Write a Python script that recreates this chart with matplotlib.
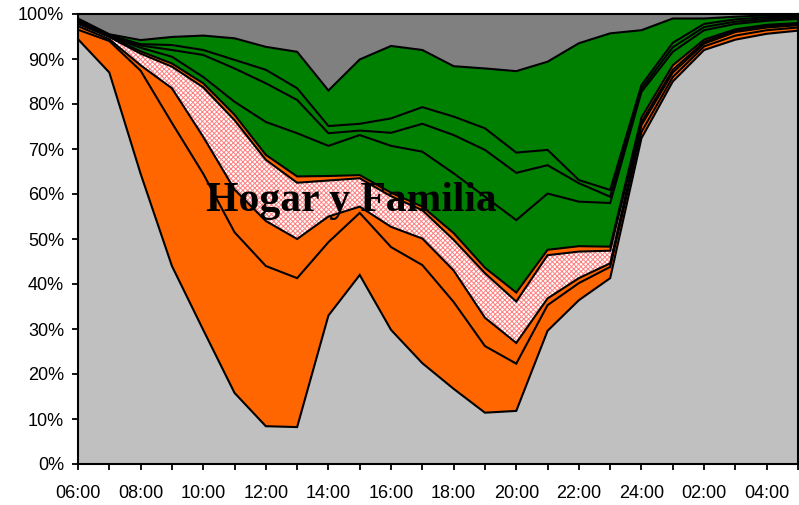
import numpy as np
import matplotlib
matplotlib.use('Agg')
import matplotlib.pyplot as plt

#%% datos (porcentaje por hora, capas de abajo hacia arriba)
horas = ['06:00','07:00','08:00','09:00','10:00','11:00','12:00','13:00',
         '14:00','15:00','16:00','17:00','18:00','19:00','20:00','21:00',
         '22:00','23:00','24:00','01:00','02:00','03:00','04:00','05:00']

gris_base  = [94.4, 87.0, 64.5, 44.0, 29.8, 15.8, 8.4, 8.2, 33.0, 42.0, 29.8, 22.4,
              16.7, 11.4, 11.8, 29.6, 36.4, 41.3, 72.4, 85.0, 92.0, 94.3, 95.6, 96.3]
naranja_1  = [2.1, 7.0, 22.9, 31.8, 34.7, 35.7, 35.6, 33.1, 16.3, 13.8, 18.4, 21.8,
              19.3, 14.8, 10.5, 5.7, 3.8, 2.5, 1.4, 1.0, 0.8, 0.9, 0.8, 0.7]
naranja_2  = [0.8, 0.4, 1.2, 7.7, 8.2, 9.5, 10.0, 8.7, 5.7, 1.4, 4.5, 5.9,
              7.0, 6.3, 4.6, 1.5, 1.1, 0.8, 1.5, 1.0, 0.6, 0.8, 0.6, 0.5]
hogar      = [0.5, 0.5, 2.6, 4.8, 11.0, 15.4, 13.6, 12.5, 8.0, 6.3, 6.8, 6.3,
              6.8, 9.9, 9.2, 9.6, 5.9, 2.8, 0.7, 0.6, 0.4, 0.3, 0.3, 0.3]
naranja_3  = [0.2, 0.1, 0.5, 0.7, 0.9, 1.2, 1.1, 1.4, 1.0, 0.7, 0.8, 0.8,
              1.5, 1.2, 2.0, 1.2, 1.2, 0.9, 1.0, 1.0, 0.5, 0.3, 0.3, 0.2]
verde_1    = [0.3, 0.1, 0.8, 1.5, 1.4, 2.9, 7.3, 9.6, 6.7, 8.9, 10.4, 12.2,
              13.3, 15.8, 16.1, 12.5, 9.9, 9.7, 5.7, 3.0, 2.1, 1.2, 0.9, 0.9]
verde_2    = [0.2, 0.1, 0.5, 1.5, 4.9, 7.4, 8.6, 7.4, 2.8, 1.0, 2.9, 6.2,
              8.5, 10.4, 10.5, 6.3, 4.1, 1.4, 0.7, 1.0, 0.7, 0.5, 0.4, 0.3]
verde_3    = [0.2, 0.1, 0.3, 1.1, 1.1, 1.9, 3.0, 2.6, 1.6, 1.5, 3.2, 3.7,
              4.1, 4.8, 4.5, 3.4, 0.7, 1.5, 0.8, 1.0, 0.7, 0.5, 0.4, 0.3]
verde_4    = [0.3, 0.2, 0.9, 1.8, 3.2, 4.8, 5.1, 8.1, 7.9, 14.3, 16.1, 12.7,
              11.2, 13.3, 18.1, 19.6, 30.4, 34.8, 12.2, 5.4, 1.2, 0.6, 0.4, 0.3]
gris_top   = [1.0, 4.5, 5.8, 5.1, 4.8, 5.4, 7.3, 8.4, 17.0, 10.1, 7.1, 8.0,
              11.6, 12.1, 12.7, 10.6, 6.5, 4.3, 3.6, 1.0, 1.0, 0.6, 0.3, 0.2]

capas = [gris_base, naranja_1, naranja_2, hogar, naranja_3,
         verde_1, verde_2, verde_3, verde_4, gris_top]
colores = ['#C0C0C0', '#FF6600', '#FF6600', 'white', '#FF6600',
           '#008000', '#008000', '#008000', '#008000', '#808080']

#%% grafico
plt.rcParams['hatch.linewidth'] = 0.7
fig = plt.figure(figsize=(7.99, 5.05), dpi=100)
ax = fig.add_axes([78/799, 41/505, 720/799, 450/505])

x = np.arange(len(horas))
polys = ax.stackplot(x, *capas, colors=colores, linewidth=0)
polys[3].set_hatch('xxxxxxx')
polys[3].set_edgecolor('#FF8080')
polys[3].set_linewidth(0)

acum = np.cumsum(np.array(capas), axis=0)
for fila in acum[:-1]:
    ax.plot(x, fila, color='k', lw=1.5, solid_joinstyle='miter')

ax.set_xlim(0, len(horas) - 1)
ax.set_ylim(0, 100)
ax.set_yticks(np.arange(0, 101, 10))
ax.set_yticklabels([f'{v}%' for v in range(0, 101, 10)])
ax.set_xticks(x)
ax.set_xticklabels([h if i % 2 == 0 else '' for i, h in enumerate(horas)])

for lbl in ax.get_xticklabels() + ax.get_yticklabels():
    lbl.set_fontfamily('Liberation Sans')
    lbl.set_fontsize(13)
ax.tick_params(axis='y', direction='out', length=4, width=1.3, pad=6)
ax.tick_params(axis='x', direction='out', length=4, width=1.3, pad=11)
for s in ax.spines.values():
    s.set_linewidth(1.5)
    s.set_color('k')

ax.text(8.72, 56.2, 'Hogar y Familia', ha='center', va='baseline',
        fontsize=30, fontweight='bold', family='Liberation Serif', color='k')

fig.savefig('out.png', dpi=100)
